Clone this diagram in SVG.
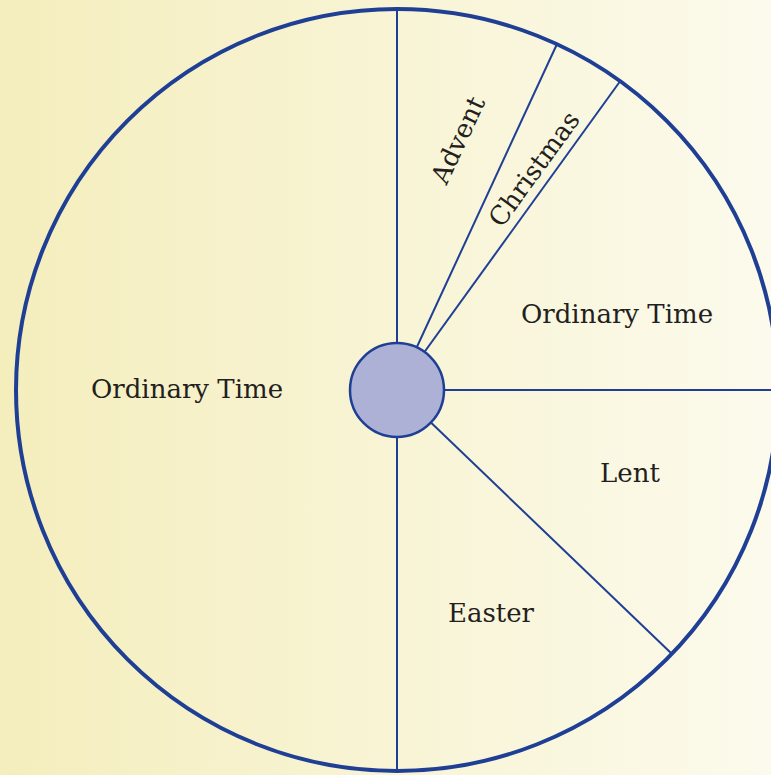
<svg xmlns="http://www.w3.org/2000/svg" width="771" height="775" viewBox="0 0 771 775">
<defs>
<linearGradient id="bg" x1="0" y1="0" x2="1" y2="0">
<stop offset="0" stop-color="#f4eebd"/>
<stop offset="1" stop-color="#fcfaec"/>
</linearGradient>
<style>
.lbl{font-family:"DejaVu Serif","Liberation Serif",serif;font-size:26px;fill:#231f20;text-anchor:middle}
.ln{stroke:#1f3f95;stroke-width:2;fill:none}
</style>
</defs>
<rect x="0" y="0" width="771" height="775" fill="url(#bg)"/>
<g id="connectors">
<line class="ln" x1="397" y1="390" x2="397" y2="9"/>
<line class="ln" x1="397" y1="390" x2="557" y2="44"/>
<line class="ln" x1="397" y1="390" x2="621" y2="80"/>
<line class="ln" x1="397" y1="390" x2="778" y2="390"/>
<line class="ln" x1="397" y1="390" x2="672" y2="654"/>
<line class="ln" x1="397" y1="390" x2="397" y2="771"/>
</g>
<g id="wheel">
<circle cx="397" cy="390" r="381" fill="none" stroke="#1f3f95" stroke-width="4"/>
</g>
<g id="hub">
<circle cx="397" cy="390" r="47" fill="#adb1d6" stroke="#1f3f95" stroke-width="2.5"/>
</g>
<g id="ordinary-left"><text class="lbl" x="187" y="398">Ordinary Time</text></g>
<g id="advent"><text class="lbl" transform="translate(458,140) rotate(-65)" x="0" y="9">Advent</text></g>
<g id="christmas"><text class="lbl" transform="translate(534,169) rotate(-54)" x="0" y="9">Christmas</text></g>
<g id="ordinary-right"><text class="lbl" x="617" y="323">Ordinary Time</text></g>
<g id="lent"><text class="lbl" x="630" y="482">Lent</text></g>
<g id="easter"><text class="lbl" x="491" y="622">Easter</text></g>
</svg>
